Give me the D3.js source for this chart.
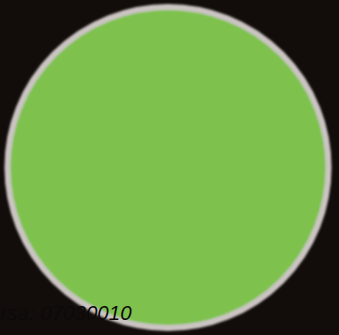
<!DOCTYPE html>
<meta charset="utf-8">
<style>
  body { margin: 0; background: #120d0b; overflow: hidden; }
</style>
<body>
<script src="https://d3js.org/d3.v7.min.js"></script>
<script>
var width = 339,
    height = 335;

// one swatch, one value
var categories = ["07030010"];
var values = [1];
var label = "rsa: 07030010";

var svg = d3.select("body").append("svg")
    .attr("width", width)
    .attr("height", height);

svg.append("defs").append("filter")
    .attr("id", "soft")
  .append("feGaussianBlur")
    .attr("stdDeviation", 0.9);

svg.append("rect")
    .attr("width", width)
    .attr("height", height)
    .attr("fill", "#120d0b");

var pie = d3.pie().sort(null);
var arc = d3.arc().innerRadius(0).outerRadius(160.5);

var g = svg.append("g")
    .attr("transform", "translate(168,167.5)")
    .attr("filter", "url(#soft)");

g.selectAll("path")
  .data(pie(values))
  .enter().append("path")
    .attr("d", arc)
    .attr("fill", "#7ec24e")
    .attr("stroke", "#cbc4c3")
    .attr("stroke-width", 6);

svg.append("text")
    .attr("x", 0.5)
    .attr("y", 320)
    .style("font-family", "Liberation Sans, Arial, sans-serif")
    .style("font-style", "italic")
    .style("font-size", "20.5px")
    .attr("fill", "#0c0a08")
    .text(label);
</script>
</body>
